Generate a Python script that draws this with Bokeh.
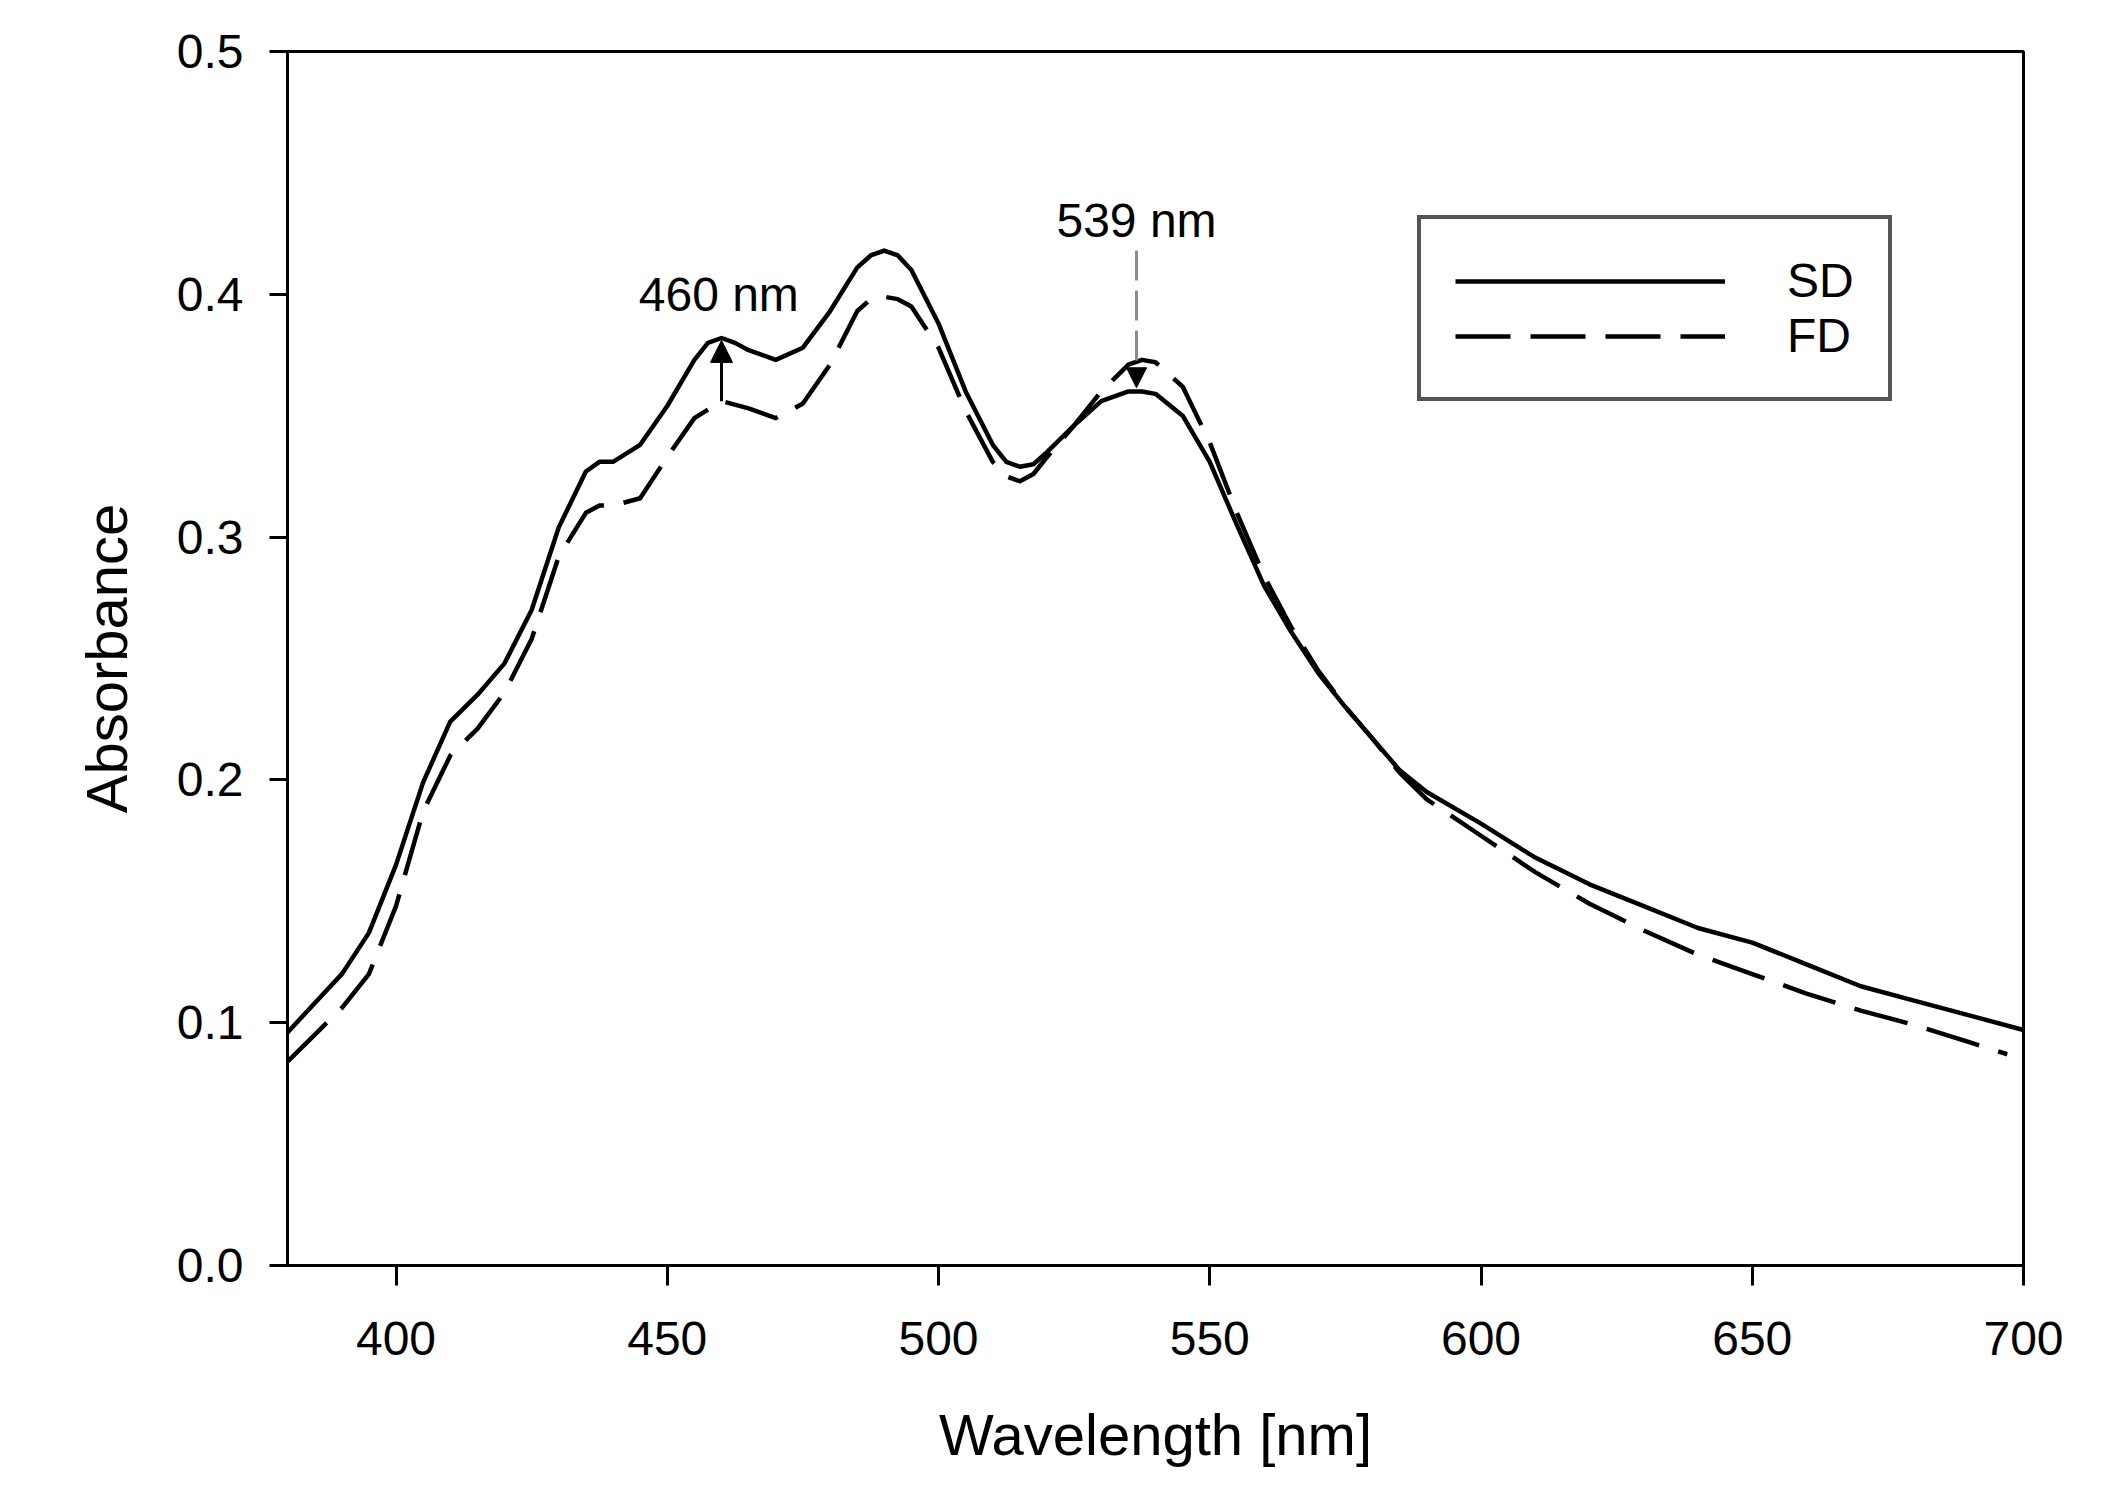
from bokeh.plotting import figure
from bokeh.models import (Range1d, FixedTicker, PrintfTickFormatter, Arrow, NormalHead,
                          Legend, LegendItem, ColumnDataSource)
from bokeh.core.properties import value
from bokeh.embed import file_html
from bokeh.resources import INLINE

# ---- data ----
wl_sd = [380, 385, 390, 395, 400, 405, 410, 415, 420, 425, 430, 435, 437.5, 440, 445, 450,
         455, 457.5, 460, 462.5, 465, 470, 475, 480, 485, 487.5, 490, 492.5, 495, 500, 505,
         510, 512.5, 515, 517.5, 520, 525, 530, 535, 537.5, 540, 545, 550, 555, 560, 565,
         570, 575, 580, 585, 590, 600, 610, 620, 630, 640, 650, 660, 670, 680, 690, 700]
sd = [0.096, 0.108, 0.120, 0.137, 0.165, 0.199, 0.224, 0.235, 0.248, 0.270, 0.304,
      0.327, 0.331, 0.331, 0.338, 0.354, 0.373, 0.380, 0.382, 0.380, 0.377, 0.373, 0.378,
      0.393, 0.411, 0.416, 0.418, 0.416, 0.410, 0.388, 0.360, 0.338, 0.331, 0.329, 0.330,
      0.335, 0.346, 0.356, 0.360, 0.360, 0.359, 0.350, 0.331, 0.305, 0.280, 0.261, 0.244,
      0.230, 0.217, 0.204, 0.195, 0.182, 0.168, 0.157, 0.148, 0.139, 0.133, 0.124, 0.115,
      0.109, 0.103, 0.097]

wl_fd = [380, 385, 390, 395, 400, 405, 410, 415, 420, 425, 430, 435, 437.5, 440, 445, 450,
         455, 460, 465, 470, 475, 480, 485, 487.5, 490, 492.5, 495, 500, 505, 510, 512.5,
         515, 517.5, 520, 525, 530, 535, 537.5, 540, 545, 550, 555, 560, 565, 570, 575,
         580, 585, 590, 600, 610, 620, 630, 640, 650, 660, 670, 680, 690, 697]
fd = [0.084, 0.095, 0.106, 0.120, 0.148, 0.187, 0.210, 0.221, 0.236, 0.258, 0.292,
      0.310, 0.313, 0.313, 0.316, 0.333, 0.349, 0.356, 0.353, 0.349, 0.355, 0.371, 0.393,
      0.398, 0.399, 0.398, 0.395, 0.378, 0.352, 0.331, 0.325, 0.323, 0.326, 0.333, 0.346,
      0.360, 0.371, 0.373, 0.372, 0.362, 0.339, 0.310, 0.284, 0.263, 0.245, 0.230, 0.217,
      0.203, 0.192, 0.177, 0.162, 0.149, 0.138, 0.128, 0.120, 0.112, 0.105, 0.099, 0.092,
      0.087]

x_ticks = [400, 450, 500, 550, 600, 650, 700]
y_ticks = [0.0, 0.1, 0.2, 0.3, 0.4, 0.5]

ann_labels = ["460 nm", "539 nm"]
ann_text_x = [459.5, 536.5]
ann_text_y = [0.400, 0.4305]
arrow460 = dict(x=460, y0=0.356, y1=0.381)
arrow539 = dict(x=536.5, y0=0.418, y1=0.3615)

FONT = "Liberation Sans"

p = figure(width=2098, height=1489, x_range=Range1d(380, 700), y_range=Range1d(0, 0.5),
           output_backend="svg", toolbar_location=None,
           min_border_left=287, min_border_top=51, min_border_right=75, min_border_bottom=224)
p.background_fill_color = "white"
p.border_fill_color = "white"
p.xgrid.visible = False
p.ygrid.visible = False
p.outline_line_color = "black"
p.outline_line_width = 3
p.outline_line_alpha = 1.0

for ax in (p.xaxis[0], p.yaxis[0]):
    ax.axis_line_color = "black"
    ax.axis_line_width = 3
    ax.major_tick_line_color = "black"
    ax.major_tick_line_width = 3
    ax.major_tick_in = 0
    ax.minor_tick_line_color = None
    ax.major_label_text_font = FONT
    ax.major_label_text_font_size = "48px"
    ax.major_label_text_color = "black"
    ax.axis_label_text_font = FONT
    ax.axis_label_text_font_size = "58px"
    ax.axis_label_text_font_style = "normal"
    ax.axis_label_text_color = "black"

p.xaxis[0].ticker = FixedTicker(ticks=x_ticks)
p.xaxis[0].major_tick_out = 20
p.xaxis[0].major_label_standoff = 36
p.xaxis[0].axis_label = "Wavelength [nm]"
p.xaxis[0].axis_label_standoff = 44

p.yaxis[0].ticker = FixedTicker(ticks=y_ticks)
p.yaxis[0].formatter = PrintfTickFormatter(format="%.1f")
p.yaxis[0].major_tick_out = 18
p.yaxis[0].major_label_standoff = 26
p.yaxis[0].axis_label = "Absorbance"
p.yaxis[0].axis_label_standoff = 35

r_sd = p.line(wl_sd, sd, line_color="black", line_width=4.5, line_join="round")
r_fd = p.line(wl_fd, fd, line_color="black", line_width=4.5, line_dash="55 20",
              line_join="round")

# annotations
p.add_layout(Arrow(x_start=arrow460["x"], y_start=arrow460["y0"],
                   x_end=arrow460["x"], y_end=arrow460["y1"],
                   line_color="black", line_width=3,
                   end=NormalHead(size=22, fill_color="black", line_color="black", line_width=1)))
p.add_layout(Arrow(x_start=arrow539["x"], y_start=arrow539["y0"],
                   x_end=arrow539["x"], y_end=arrow539["y1"],
                   line_color="#8c8c8c", line_width=3, line_dash="30 10",
                   end=NormalHead(size=20, fill_color="black", line_color="black", line_width=1)))

src = ColumnDataSource(dict(x=ann_text_x, y=ann_text_y, t=ann_labels))
p.text(x="x", y="y", text="t", source=src, text_font=value(FONT), text_font_size="48px",
       text_align="center", text_baseline="alphabetic", text_color="black")

legend = Legend(items=[LegendItem(label="SD", renderers=[r_sd]),
                       LegendItem(label="FD", renderers=[r_fd])],
                location=(1130, 864), margin=0, padding=34, spacing=0,
                glyph_width=270, glyph_height=48, label_height=48, label_standoff=62,
                label_text_font=FONT, label_text_font_size="48px", label_text_color="black",
                border_line_color="#555555", border_line_width=4, border_line_alpha=1.0,
                background_fill_color="white", background_fill_alpha=1.0)
p.add_layout(legend, "center")

open("out.html", "w").write(file_html(p, INLINE))
